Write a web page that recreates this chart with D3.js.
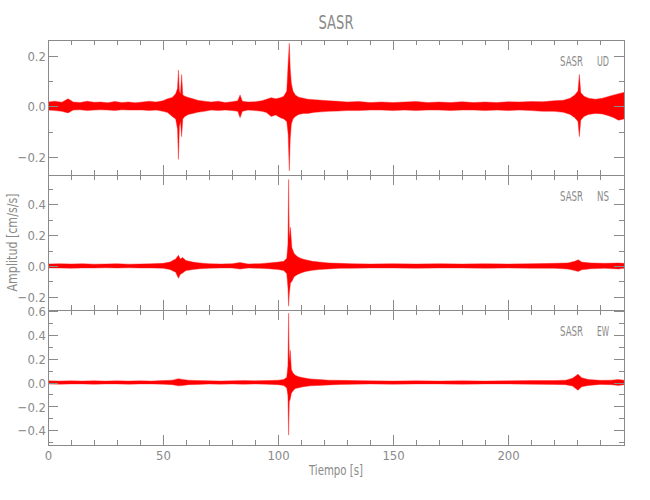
<!DOCTYPE html>
<html>
<head>
<meta charset="utf-8">
<script src="https://cdn.jsdelivr.net/npm/d3@7"></script>
<style>
  html, body { margin: 0; padding: 0; background: #fff; }
  svg { display: block; }
  text { font-family: 'Liberation Sans Narrow', 'DejaVu Sans Condensed', 'Liberation Sans', sans-serif; font-stretch: condensed; fill: #8a8a8a; }
</style>
</head>
<body>
<svg id="chart" width="650" height="500"></svg>
<script>
// ---------------- data ----------------
const station = "SASR";
const components = ["UD", "NS", "EW"];
const xTicks = [0, 50, 100, 150, 200];
const timeRange = [0, 250.4];

// UD component: envelope key points (time s, max, min) in cm/s/s
const udTime = [0, 3, 6, 8.7, 11, 14, 17, 20, 23, 26, 29, 32, 35, 38, 41, 44, 47, 50, 52, 54, 55.5, 56.3, 56.7, 57.1, 57.6, 58.1, 58.6, 59.5, 61, 63, 65, 68, 71, 74, 77, 80, 82.5, 83.5, 84.5, 87, 90, 93, 95, 97, 99, 101, 102.5, 103.8, 104.4, 104.9, 105.3, 105.8, 106.5, 107.5, 109, 111, 113, 116, 119, 122, 126, 130, 135, 140, 145, 150, 155, 160, 165, 170, 175, 180, 185, 190, 195, 200, 205, 210, 215, 220, 224, 227, 229, 230.4, 231, 231.6, 233, 235, 238, 241, 244, 246, 248, 250.4];
const udMax  = [0.017, 0.02, 0.016, 0.03, 0.017, 0.015, 0.02, 0.016, 0.017, 0.014, 0.019, 0.015, 0.017, 0.014, 0.017, 0.02, 0.017, 0.022, 0.03, 0.035, 0.05, 0.07, 0.143, 0.06, 0.05, 0.126, 0.045, 0.04, 0.035, 0.03, 0.024, 0.02, 0.017, 0.02, 0.015, 0.018, 0.022, 0.045, 0.02, 0.017, 0.018, 0.022, 0.028, 0.034, 0.03, 0.034, 0.04, 0.06, 0.17, 0.249, 0.15, 0.09, 0.06, 0.045, 0.036, 0.032, 0.028, 0.026, 0.024, 0.022, 0.02, 0.017, 0.019, 0.015, 0.017, 0.015, 0.017, 0.019, 0.015, 0.017, 0.015, 0.018, 0.015, 0.017, 0.015, 0.018, 0.017, 0.019, 0.018, 0.022, 0.024, 0.032, 0.045, 0.06, 0.126, 0.055, 0.04, 0.032, 0.028, 0.032, 0.04, 0.045, 0.05, 0.055];
const udMin  = [-0.015, -0.017, -0.02, -0.026, -0.015, -0.014, -0.017, -0.015, -0.014, -0.015, -0.017, -0.014, -0.015, -0.015, -0.015, -0.017, -0.015, -0.02, -0.025, -0.04, -0.05, -0.09, -0.21, -0.08, -0.06, -0.12, -0.05, -0.04, -0.032, -0.028, -0.024, -0.02, -0.015, -0.017, -0.015, -0.017, -0.02, -0.045, -0.02, -0.015, -0.017, -0.02, -0.025, -0.04, -0.034, -0.045, -0.05, -0.06, -0.11, -0.255, -0.13, -0.07, -0.05, -0.04, -0.032, -0.028, -0.028, -0.024, -0.022, -0.02, -0.019, -0.017, -0.017, -0.015, -0.015, -0.017, -0.015, -0.017, -0.015, -0.015, -0.017, -0.015, -0.015, -0.017, -0.015, -0.017, -0.015, -0.017, -0.02, -0.02, -0.024, -0.032, -0.045, -0.06, -0.12, -0.055, -0.04, -0.032, -0.028, -0.03, -0.038, -0.045, -0.055, -0.05];

// NS component
const nsTime = [0, 5, 10, 15, 20, 25, 30, 35, 40, 45, 50, 53, 55.5, 56.7, 57.5, 58.5, 60, 63, 66, 70, 75, 80, 83.5, 87, 92, 96, 100, 102.5, 103.8, 104.3, 104.6, 104.9, 105.4, 106, 107, 108.5, 110, 112, 115, 118, 122, 127, 132, 140, 150, 160, 170, 180, 190, 200, 210, 220, 226, 229, 230.5, 232, 236, 242, 248, 250.4];
const nsMax  = [0.013, 0.015, 0.013, 0.015, 0.012, 0.013, 0.015, 0.012, 0.013, 0.015, 0.017, 0.025, 0.045, 0.07, 0.045, 0.055, 0.035, 0.025, 0.02, 0.015, 0.013, 0.015, 0.022, 0.013, 0.015, 0.02, 0.025, 0.03, 0.05, 0.14, 0.56, 0.18, 0.25, 0.12, 0.08, 0.06, 0.048, 0.04, 0.03, 0.025, 0.02, 0.017, 0.015, 0.013, 0.015, 0.013, 0.015, 0.013, 0.015, 0.013, 0.015, 0.017, 0.02, 0.03, 0.04, 0.025, 0.02, 0.017, 0.02, 0.017];
const nsMin  = [-0.013, -0.013, -0.015, -0.013, -0.013, -0.012, -0.013, -0.012, -0.013, -0.013, -0.015, -0.023, -0.04, -0.08, -0.055, -0.045, -0.03, -0.023, -0.018, -0.015, -0.013, -0.013, -0.02, -0.013, -0.015, -0.018, -0.023, -0.03, -0.05, -0.14, -0.26, -0.18, -0.11, -0.1, -0.07, -0.055, -0.045, -0.035, -0.028, -0.023, -0.019, -0.015, -0.015, -0.013, -0.013, -0.015, -0.013, -0.013, -0.015, -0.013, -0.015, -0.015, -0.02, -0.03, -0.035, -0.025, -0.018, -0.015, -0.02, -0.015];

// EW component
const ewTime = [0, 5, 10, 15, 20, 25, 30, 35, 40, 45, 50, 54, 56.7, 58.5, 61, 65, 70, 75, 80, 85, 90, 95, 100, 102.5, 103.8, 104.3, 104.6, 104.9, 105.3, 105.8, 106.5, 107.5, 109, 111, 114, 118, 122, 127, 133, 140, 150, 160, 170, 180, 190, 200, 210, 220, 225, 228, 230.4, 232, 235, 240, 245, 248, 250.4];
const ewMax  = [0.014, 0.012, 0.014, 0.012, 0.014, 0.012, 0.014, 0.012, 0.014, 0.012, 0.016, 0.02, 0.032, 0.026, 0.02, 0.016, 0.014, 0.012, 0.014, 0.016, 0.014, 0.016, 0.02, 0.025, 0.045, 0.14, 0.58, 0.18, 0.27, 0.11, 0.08, 0.06, 0.048, 0.04, 0.03, 0.025, 0.02, 0.018, 0.016, 0.014, 0.012, 0.014, 0.012, 0.014, 0.012, 0.014, 0.016, 0.016, 0.02, 0.035, 0.07, 0.04, 0.025, 0.018, 0.02, 0.025, 0.02];
const ewMin  = [-0.012, -0.014, -0.012, -0.012, -0.014, -0.012, -0.012, -0.014, -0.012, -0.012, -0.014, -0.018, -0.028, -0.026, -0.018, -0.016, -0.012, -0.014, -0.012, -0.014, -0.012, -0.014, -0.018, -0.025, -0.045, -0.11, -0.44, -0.16, -0.14, -0.09, -0.07, -0.05, -0.044, -0.035, -0.028, -0.024, -0.02, -0.016, -0.014, -0.012, -0.014, -0.012, -0.012, -0.014, -0.012, -0.012, -0.014, -0.016, -0.018, -0.03, -0.065, -0.035, -0.024, -0.016, -0.018, -0.024, -0.018];

// y-axis ranges and ticks per panel
const udRange = [-0.2715, 0.262], nsRange = [-0.285, 0.589], ewRange = [-0.523, 0.607];
const udTicks = [-0.2, 0, 0.2], nsTicks = [-0.2, 0, 0.2, 0.4], ewTicks = [-0.4, -0.2, 0, 0.2, 0.4, 0.6];
const udMinor = [-0.1, 0.1], nsMinor = [-0.1, 0.1, 0.3, 0.5], ewMinor = [-0.5, -0.3, -0.1, 0.1, 0.3, 0.5];

// ---------------- drawing ----------------
const svg = d3.select("#chart");
const left = 48, right = 624, top0 = 40, panelH = 135;
const axisColor = "#8a8a8a";
const x = d3.scaleLinear().domain(timeRange).range([left, right]);
const xMinor = d3.range(0, 251, 10).filter(v => v % 50 !== 0);

const panels = [
  { comp: components[0], t: udTime, hi: udMax, lo: udMin, range: udRange, ticks: udTicks, minor: udMinor },
  { comp: components[1], t: nsTime, hi: nsMax, lo: nsMin, range: nsRange, ticks: nsTicks, minor: nsMinor },
  { comp: components[2], t: ewTime, hi: ewMax, lo: ewMin, range: ewRange, ticks: ewTicks, minor: ewMinor }
];

const fmtY = d3.format(".1f");

panels.forEach((p, i) => {
  const y0 = top0 + i * panelH, y1 = y0 + panelH;
  const y = d3.scaleLinear().domain(p.range).range([y1, y0]);
  const g = svg.append("g");

  const clipId = "clip" + i;
  svg.append("clipPath").attr("id", clipId).append("rect")
    .attr("x", left).attr("y", y0).attr("width", right - left).attr("height", panelH);

  const data = p.t.map((t, k) => ({ t, hi: p.hi[k], lo: p.lo[k] }));
  const area = d3.area().x(d => x(d.t)).y0(d => y(d.lo)).y1(d => y(d.hi));
  g.append("path").datum(data).attr("d", area)
    .attr("clip-path", `url(#${clipId})`)
    .attr("fill", "#ff0000").attr("stroke", "#ff2020").attr("stroke-width", 0.6)
    .attr("stroke-opacity", 0.7).attr("stroke-linejoin", "round");

  // axes
  const ax = (gen, tx, ty) => {
    const a = g.append("g").attr("transform", `translate(${tx},${ty})`).attr("color", axisColor).call(gen);
    a.select(".domain").remove();
    a.selectAll("line").attr("shape-rendering", "crispEdges");
    return a;
  };
  const yl = ax(d3.axisLeft(y).tickValues(p.ticks).tickSize(-10).tickPadding(2).tickFormat(fmtY), left, 0);
  yl.selectAll("text").attr("font-size", 13).attr("font-family", null).attr("fill", "#8a8a8a").attr("dy", "0.36em");
  ax(d3.axisLeft(y).tickValues(p.minor).tickSize(-5).tickFormat(""), left, 0);
  ax(d3.axisRight(y).tickValues(p.ticks).tickSize(-10).tickFormat(""), right, 0);
  ax(d3.axisRight(y).tickValues(p.minor).tickSize(-5).tickFormat(""), right, 0);
  ax(d3.axisTop(x).tickValues(xTicks).tickSize(-10).tickFormat(""), 0, y0);
  ax(d3.axisTop(x).tickValues(xMinor).tickSize(-5).tickFormat(""), 0, y0);
  const xb = ax(d3.axisBottom(x).tickValues(xTicks).tickSize(-10).tickPadding(3)
    .tickFormat(i === 2 ? d3.format("d") : ""), 0, y1);
  xb.selectAll("text").attr("font-size", 13).attr("font-family", null).attr("fill", "#8a8a8a").attr("dy", "0.9em");
  ax(d3.axisBottom(x).tickValues(xMinor).tickSize(-5).tickFormat(""), 0, y1);

  // frame
  g.append("rect").attr("x", left + 0.5).attr("y", y0 + 0.5)
    .attr("width", right - left).attr("height", panelH)
    .attr("fill", "none").attr("stroke", axisColor).attr("shape-rendering", "crispEdges");

  // station / component label
  g.append("text").attr("x", 560).attr("y", y0 + 26).attr("font-size", 14)
    .attr("textLength", 23).attr("lengthAdjust", "spacingAndGlyphs").text(station);
  g.append("text").attr("x", 597).attr("y", y0 + 26).attr("font-size", 14)
    .attr("textLength", 12).attr("lengthAdjust", "spacingAndGlyphs").text(p.comp);
});

// title and axis titles
svg.append("text").attr("x", (left + right) / 2).attr("y", 29).attr("text-anchor", "middle")
  .attr("font-size", 19).attr("textLength", 35).attr("lengthAdjust", "spacingAndGlyphs").text(station);
svg.append("text").attr("x", (left + right) / 2).attr("y", 475).attr("text-anchor", "middle")
  .attr("font-size", 14).attr("textLength", 54).attr("lengthAdjust", "spacingAndGlyphs").text("Tiempo [s]");
svg.append("text").attr("transform", `translate(17,${top0 + panelH * 1.5}) rotate(-90)`)
  .attr("text-anchor", "middle").attr("font-size", 14)
  .attr("textLength", 98).attr("lengthAdjust", "spacingAndGlyphs").text("Amplitud [cm/s/s]");
</script>
</body>
</html>
